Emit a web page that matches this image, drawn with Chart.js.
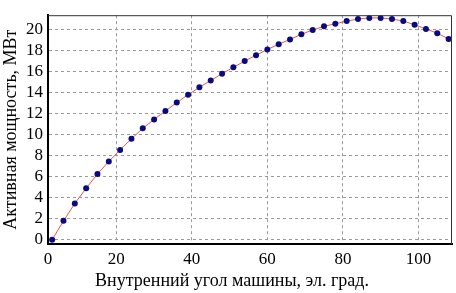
<!DOCTYPE html>
<html>
<head>
<meta charset="utf-8">
<script src="https://cdn.jsdelivr.net/npm/chart.js@4"></script>
<style>
  html, body { margin: 0; padding: 0; background: #fff; }
  #wrap { width: 456px; height: 293px; }
</style>
</head>
<body>
<div id="wrap"><canvas id="myChart" width="456" height="293"></canvas></div>
<script>
// внутренний угол, эл. град.
const angles = [3, 6, 9, 12, 15, 18, 21, 24, 27, 30, 33, 36, 39, 42, 45, 48, 51, 54,
                57, 60, 63, 66, 69, 72, 75, 78, 81, 84, 87, 90, 93, 96, 99, 102, 105, 108];
// активная мощность, МВт
const power = [0, 1.8, 3.45, 4.9, 6.25, 7.45, 8.55, 9.6, 10.6, 11.45, 12.25, 13.05, 13.8, 14.5,
               15.15, 15.8, 16.4, 17.0, 17.55, 18.1, 18.6, 19.05, 19.55, 19.95, 20.3, 20.55,
               20.8, 21.0, 21.1, 21.1, 21.0, 20.8, 20.45, 20.05, 19.65, 19.1];
const xTicks = [20, 40, 60, 80, 100];
const yTicks = [0, 2, 4, 6, 8, 10, 12, 14, 16, 18, 20];

const serif = "'Liberation Serif', 'DejaVu Serif', serif";

// рамка сверху и справа
const frame = {
    id: 'frame',
    afterDraw(chart) {
        const a = chart.chartArea, c = chart.ctx;
        c.save();
        c.strokeStyle = '#333';
        c.lineWidth = 1;
        c.beginPath();
        c.moveTo(a.left, a.top + 0.5);
        c.lineTo(a.right - 0.5, a.top + 0.5);
        c.lineTo(a.right - 0.5, a.bottom);
        c.stroke();
        c.restore();
    }
};

const ctx = document.getElementById("myChart");
new Chart(ctx, {
    type: 'line',
    data: {
        datasets: [{
            data: angles.map((a, i) => ({ x: a, y: power[i] })),
            borderColor: '#e05a4a',
            borderWidth: 1,
            pointRadius: 3,
            pointBackgroundColor: '#0a0a80',
            pointBorderColor: '#0a0a80',
            pointBorderWidth: 0,
            tension: 0
        }]
    },
    options: {
        responsive: false,
        animation: false,
        layout: { padding: { left: 0, right: 2, top: 3, bottom: 0 } },
        plugins: { legend: { display: false }, tooltip: { enabled: false } },
        scales: {
            x: {
                type: 'linear',
                min: 1.9,
                max: 108.9,
                afterBuildTicks: s => { s.ticks = [{ value: 1.9 }].concat(xTicks.map(v => ({ value: v }))); },
                afterFit: s => { s.height = 49; },
                ticks: {
                    callback: v => v < 10 ? '0' : v,
                    color: '#000',
                    font: { family: serif, size: 17 },
                    padding: 5,
                    maxRotation: 0,
                    autoSkip: false
                },
                grid: { color: ctx => ctx.tick && ctx.tick.value < 10 ? 'rgba(0,0,0,0)' : '#999', drawTicks: false },
                border: { display: true, color: '#000', width: 2, dash: [3, 3] },
                title: {
                    display: true,
                    text: 'Внутренний угол машины, эл. град.\u2003\u2003',
                    color: '#000',
                    font: { family: serif, size: 18 },
                    padding: { top: 0, bottom: 1 }
                }
            },
            y: {
                min: -0.4,
                max: 21.36,
                afterBuildTicks: s => { s.ticks = yTicks.map(v => ({ value: v })); },
                afterFit: s => { s.width = 48; },
                ticks: {
                    color: '#000',
                    font: { family: serif, size: 17 },
                    padding: 5,
                    autoSkip: false
                },
                grid: { color: '#999', drawTicks: false },
                border: { display: true, color: '#000', width: 2, dash: [3, 3] },
                title: {
                    display: true,
                    text: 'Активная мощность, МВт',
                    color: '#000',
                    font: { family: serif, size: 18 },
                    padding: { top: 0, bottom: 0 }
                }
            }
        }
    },
    plugins: [frame]
});
</script>
</body>
</html>
